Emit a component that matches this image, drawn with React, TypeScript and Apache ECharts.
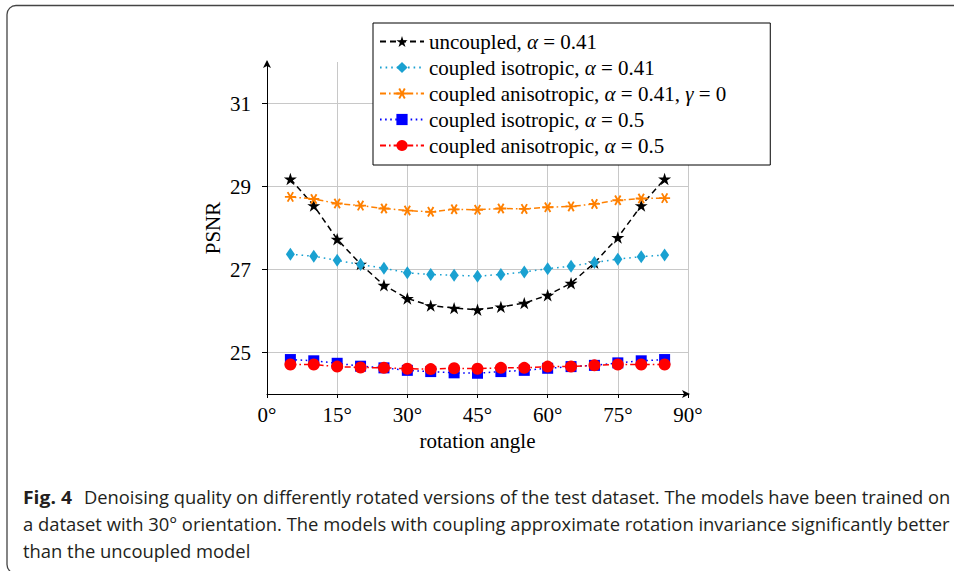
import React, { useEffect, useRef } from "react";
import * as echarts from "echarts";

const angles = [5, 10, 15, 20, 25, 30, 35, 40, 45, 50, 55, 60, 65, 70, 75, 80, 85];
const uncoupled041 = [29.18, 28.54, 27.73, 27.13, 26.62, 26.3, 26.13, 26.07, 26.03, 26.1, 26.19, 26.38, 26.67, 27.16, 27.77, 28.54, 29.18];
const isotropic041 = [27.37, 27.32, 27.22, 27.12, 27.03, 26.92, 26.88, 26.86, 26.84, 26.88, 26.94, 27.02, 27.08, 27.17, 27.25, 27.31, 27.35];
const anisotropic041 = [28.75, 28.7, 28.59, 28.54, 28.47, 28.42, 28.39, 28.45, 28.44, 28.47, 28.46, 28.5, 28.52, 28.58, 28.67, 28.71, 28.72];
const isotropic05 = [24.83, 24.8, 24.74, 24.67, 24.63, 24.57, 24.54, 24.51, 24.5, 24.54, 24.57, 24.62, 24.66, 24.69, 24.75, 24.8, 24.83];
const anisotropic05 = [24.71, 24.71, 24.66, 24.64, 24.63, 24.61, 24.6, 24.62, 24.61, 24.63, 24.63, 24.66, 24.66, 24.69, 24.71, 24.71, 24.71];

const seriesNames = [
  "uncoupled, α = 0.41",
  "coupled isotropic, α = 0.41",
  "coupled anisotropic, α = 0.41, γ = 0",
  "coupled isotropic, α = 0.5",
  "coupled anisotropic, α = 0.5",
];
const yTicks = [25, 27, 29, 31];
const xAxisName = "rotation angle";
const yAxisName = "PSNR";
const captionBold = "Fig. 4";
const captionLines = [
  "Denoising quality on differently rotated versions of the test dataset. The models have been trained on",
  "a dataset with 30° orientation. The models with coupling approximate rotation invariance significantly better",
  "than the uncoupled model",
];

const SERIF = "'Liberation Serif', 'Times New Roman', serif";
const SANS = "'Open Sans', 'Noto Sans', sans-serif";

function starPath(): string {
  const R = 10;
  const r = 3.8;
  let d = "";
  for (let i = 0; i < 10; i++) {
    const a = -Math.PI / 2 + (i * Math.PI) / 5;
    const rad = i % 2 === 0 ? R : r;
    const x = rad * Math.cos(a);
    const y = rad * Math.sin(a);
    d += (i === 0 ? "M" : "L") + x.toFixed(3) + " " + y.toFixed(3) + " ";
  }
  return "path://" + d + "Z";
}

function asteriskPath(): string {
  const L = 10;
  const w = 1.7;
  let d = "";
  [0, 60, 120].forEach((deg) => {
    const a = (deg * Math.PI) / 180;
    const c = Math.cos(a);
    const s = Math.sin(a);
    const pts = [
      [-L, -w],
      [L, -w],
      [L, w],
      [-L, w],
    ].map(([x, y]) => [x * c - y * s, x * s + y * c]);
    d +=
      "M" +
      pts.map((p) => p[0].toFixed(3) + " " + p[1].toFixed(3)).join(" L") +
      " Z ";
  });
  return "path://" + d;
}

function measure(text: string, font: string): number {
  const c = document.createElement("canvas");
  const ctx = c.getContext("2d");
  if (!ctx) return text.length * 8;
  ctx.font = font;
  return ctx.measureText(text).width;
}

export default function App() {
  const ref = useRef<HTMLDivElement>(null);

  useEffect(() => {
    if (!ref.current) return;
    const chart = echarts.init(ref.current, undefined, { renderer: "svg" });

    const toData = (vals: number[]) => angles.map((a, i) => [a, vals[i]]);

    const capFont = "18px " + SANS;
    const capBoldFont = "bold 18px " + SANS;
    const restStart = 84;
    const lineEnd = 951;
    const s1 = (lineEnd - restStart) / measure(captionLines[0], capFont);
    const s2 = (lineEnd - 23) / measure(captionLines[1], capFont);
    const sb = (72 - 23) / measure(captionBold, capBoldFont);

    const styles = [
      { color: "#000000", dash: [6, 4], symbol: starPath(), size: 13 },
      { color: "#1aa1d1", dash: [1.6, 4], symbol: "diamond", size: [9, 13] },
      { color: "#ff8000", dash: [6, 3, 1.6, 3], symbol: asteriskPath(), size: 11 },
      { color: "#0000ff", dash: [1.6, 3.5], symbol: "rect", size: 11 },
      { color: "#ff0000", dash: [6, 3, 1.6, 3], symbol: "circle", size: 12 },
    ];
    const values = [uncoupled041, isotropic041, anisotropic041, isotropic05, anisotropic05];

    const option: any = {
      animation: false,
      backgroundColor: "#ffffff",
      grid: { left: 267, top: 62, width: 421, height: 332, outerBoundsMode: "none" },
      xAxis: {
        type: "value",
        min: 0,
        max: 90,
        interval: 15,
        name: xAxisName,
        nameLocation: "middle",
        nameGap: 36,
        nameTextStyle: { fontFamily: SERIF, fontSize: 21, color: "#000" },
        axisLine: {
          show: true,
          symbol: ["none", "arrow"],
          symbolSize: [6, 8],
          symbolOffset: [0, 2],
          lineStyle: { color: "#000", width: 1 },
        },
        axisTick: { show: true, inside: false, length: 4, lineStyle: { color: "#000" } },
        axisLabel: {
          formatter: (v: number) => v + "°",
          margin: 10,
          fontFamily: SERIF,
          fontSize: 21,
          color: "#000",
        },
        splitLine: { show: true, lineStyle: { color: "#c8c8c8", width: 1 } },
      },
      yAxis: {
        type: "value",
        min: 24,
        max: 32,
        name: yAxisName,
        nameLocation: "middle",
        nameGap: 44,
        nameTextStyle: { fontFamily: SERIF, fontSize: 21, color: "#000" },
        axisLine: {
          show: true,
          symbol: ["none", "arrow"],
          symbolSize: [6, 8],
          symbolOffset: [0, 2],
          lineStyle: { color: "#000", width: 1 },
        },
        axisTick: { show: true, inside: false, length: 5, customValues: yTicks, lineStyle: { color: "#000" } },
        axisLabel: {
          customValues: yTicks,
          margin: 16,
          fontFamily: SERIF,
          fontSize: 21,
          color: "#000",
        },
        splitLine: { show: true, lineStyle: { color: "#c8c8c8", width: 1 } },
      },
      legend: {
        orient: "vertical",
        left: 373,
        top: 23,
        padding: [8, 44, 9, 6],
        itemWidth: 44,
        itemHeight: 14,
        itemGap: 5,
        backgroundColor: "#ffffff",
        borderColor: "#000000",
        borderWidth: 1,
        borderRadius: 0,
        data: seriesNames,
        formatter: (name: string) => name.replace(/([αγ])/g, "{m|$1}"),
        textStyle: {
          fontFamily: SERIF,
          fontSize: 21,
          color: "#000",
          lineHeight: 20,
          rich: {
            m: { fontFamily: SERIF, fontSize: 21, lineHeight: 20, fontStyle: "italic", color: "#000" },
          },
        },
      },
      series: seriesNames.map((name, i) => ({
        name,
        type: "line",
        data: toData(values[i]),
        symbol: styles[i].symbol,
        symbolSize: styles[i].size,
        symbolKeepAspect: true,
        showAllSymbol: true,
        lineStyle: { color: styles[i].color, width: 1.5, type: styles[i].dash },
        itemStyle: { color: styles[i].color, borderWidth: 0 },
        z: 2 + i,
      })),
      graphic: [
        {
          type: "rect",
          shape: { x: 7, y: 5.5, width: 980, height: 568, r: 9 },
          style: { fill: "none", stroke: "#444444", lineWidth: 1.3 },
          silent: true,
        },
        {
          type: "text",
          x: 23,
          y: 497,
          scaleX: sb,
          style: { text: captionBold, font: capBoldFont, fill: "#231f20", verticalAlign: "middle" },
        },
        {
          type: "text",
          x: restStart,
          y: 497,
          scaleX: s1,
          style: { text: captionLines[0], font: capFont, fill: "#231f20", verticalAlign: "middle" },
        },
        {
          type: "text",
          x: 23,
          y: 524,
          scaleX: s2,
          style: { text: captionLines[1], font: capFont, fill: "#231f20", verticalAlign: "middle" },
        },
        {
          type: "text",
          x: 23,
          y: 551,
          scaleX: s2,
          style: { text: captionLines[2], font: capFont, fill: "#231f20", verticalAlign: "middle" },
        },
      ],
    };

    chart.setOption(option);
    return () => chart.dispose();
  }, []);

  return (
    <div
      ref={ref}
      style={{ position: "fixed", left: 0, top: 0, width: 954, height: 571, background: "#fff" }}
    />
  );
}
